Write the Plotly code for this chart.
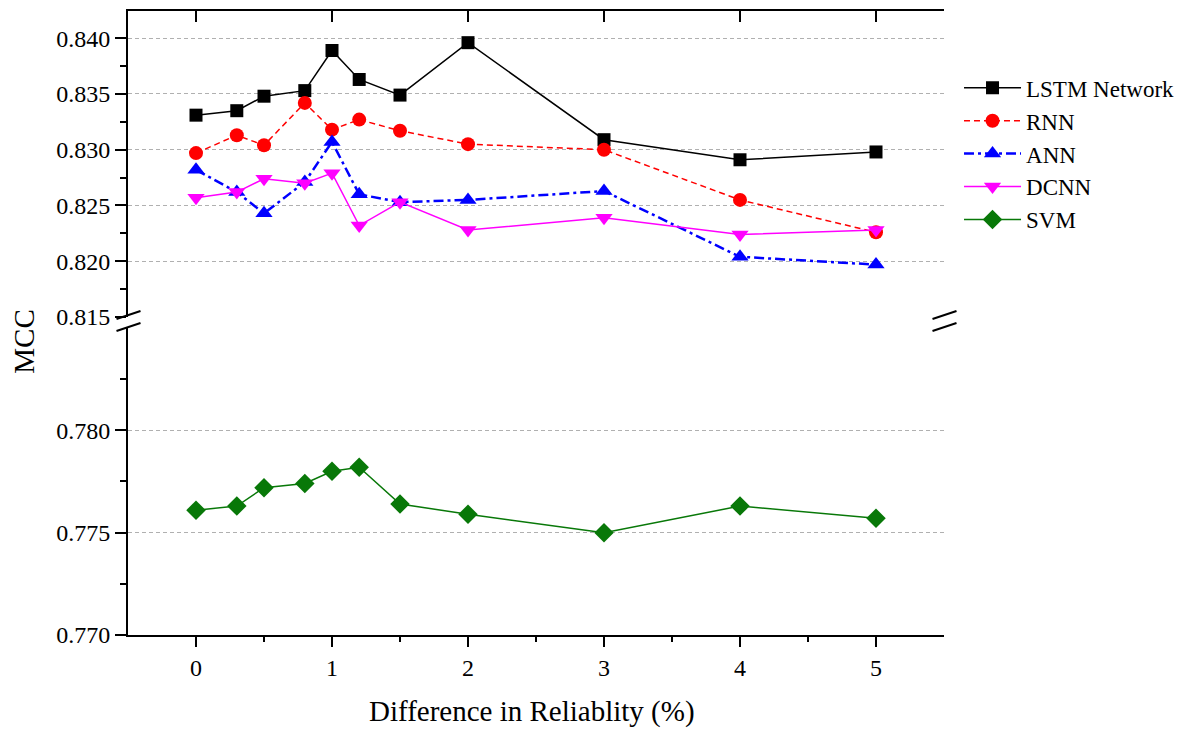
import plotly.graph_objects as go

# ---- data ----
x_vals = [0, 0.3, 0.5, 0.8, 1, 1.2, 1.5, 2, 3, 4, 5]
lstm = [0.8331, 0.8335, 0.8348, 0.8353, 0.8389, 0.8363, 0.8349, 0.8396, 0.8309, 0.8291, 0.8298]
rnn = [0.8297, 0.8313, 0.8304, 0.8342, 0.8318, 0.8327, 0.8317, 0.8305, 0.8300, 0.8255, 0.8226]
ann = [0.8282, 0.8262, 0.8243, 0.8271, 0.8307, 0.8260, 0.8253, 0.8255, 0.8263, 0.8204, 0.8197]
dcnn = [0.8257, 0.8262, 0.8274, 0.8270, 0.8279, 0.8232, 0.8253, 0.8228, 0.8239, 0.8224, 0.8228]
svm = [0.7761, 0.7763, 0.7772, 0.7774, 0.7780, 0.7782, 0.7764, 0.7759, 0.7750, 0.7763, 0.7757]

x_ticks = [0, 1, 2, 3, 4, 5]
x_minor = [0.5, 1.5, 2.5, 3.5, 4.5]
top_ticks = [0.815, 0.820, 0.825, 0.830, 0.835, 0.840]
top_minor = [0.8175, 0.8225, 0.8275, 0.8325, 0.8375]
bot_ticks = [0.770, 0.775, 0.780]
bot_minor = [0.7725, 0.7775, 0.7825]

FONT = "Liberation Serif"

fig = go.Figure()

fig.add_trace(go.Scatter(x=x_vals, y=lstm, name="LSTM Network", xaxis="x2", yaxis="y2",
                         mode="lines+markers",
                         line=dict(color="black", width=1.5),
                         marker=dict(symbol="square", size=13, color="black")))
fig.add_trace(go.Scatter(x=x_vals, y=rnn, name="RNN", xaxis="x2", yaxis="y2",
                         mode="lines+markers",
                         line=dict(color="#ff0000", width=1.5, dash="6px,4px"),
                         marker=dict(symbol="circle", size=14, color="#ff0000")))
fig.add_trace(go.Scatter(x=x_vals, y=ann, name="ANN", xaxis="x2", yaxis="y2",
                         mode="lines+markers",
                         line=dict(color="#0000ff", width=2.5, dash="10px,4px,3px,4px"),
                         marker=dict(symbol="triangle-up", size=15, color="#0000ff")))
fig.add_trace(go.Scatter(x=x_vals, y=dcnn, name="DCNN", xaxis="x2", yaxis="y2",
                         mode="lines+markers",
                         line=dict(color="#ff00ff", width=1.5),
                         marker=dict(symbol="triangle-down", size=15, color="#ff00ff")))
fig.add_trace(go.Scatter(x=x_vals, y=svm, name="SVM", xaxis="x", yaxis="y",
                         mode="lines+markers",
                         line=dict(color="#087808", width=1.5),
                         marker=dict(symbol="diamond", size=15, color="#087808")))

tickfont = dict(family=FONT, size=24, color="black")
grid = dict(showgrid=True, gridcolor="#b0b0b0", gridwidth=1, griddash="4px,3px")

TOP_DOMAIN = [0.5096, 1.0]
BOT_DOMAIN = [0.0, 0.492]

fig.update_layout(
    width=1190, height=729,
    margin=dict(l=128, r=246, t=11, b=94, autoexpand=False),
    paper_bgcolor="white", plot_bgcolor="white",
    font=dict(family=FONT, size=24, color="black"),
    xaxis=dict(domain=[0, 1], anchor="y", range=[-0.5, 5.5],
               tickvals=x_ticks, ticktext=[str(v) for v in x_ticks],
               ticks="outside", ticklen=10, tickwidth=2, tickcolor="black",
               tickfont=tickfont, showgrid=False, zeroline=False,
               showline=True, linecolor="black", linewidth=2,
               minor=dict(tickvals=x_minor, ticks="outside", ticklen=5,
                          tickwidth=2, tickcolor="black", showgrid=False)),
    xaxis2=dict(domain=[0, 1], anchor="y2", side="top", range=[-0.5, 5.5],
                matches="x", tickvals=x_ticks, showticklabels=False,
                ticks="inside", ticklen=11, tickwidth=2, tickcolor="black",
                showgrid=False, zeroline=False,
                showline=True, linecolor="black", linewidth=2),
    yaxis=dict(domain=BOT_DOMAIN, anchor="x", range=[0.770, 0.785],
               tickvals=bot_ticks, ticktext=["%.3f" % v for v in bot_ticks],
               ticks="outside", ticklen=11, tickwidth=2, tickcolor="black",
               tickfont=tickfont, zeroline=False,
               showline=True, linecolor="black", linewidth=2,
               minor=dict(tickvals=bot_minor, ticks="outside", ticklen=6,
                          tickwidth=2, tickcolor="black", showgrid=False),
               **grid),
    yaxis2=dict(domain=TOP_DOMAIN, anchor="x2", range=[0.815, 0.84244],
                tickvals=top_ticks, ticktext=["%.3f" % v for v in top_ticks],
                ticks="outside", ticklen=11, tickwidth=2, tickcolor="black",
                tickfont=tickfont, zeroline=False,
                showline=True, linecolor="black", linewidth=2,
                minor=dict(tickvals=top_minor, ticks="outside", ticklen=6,
                           tickwidth=2, tickcolor="black", showgrid=False),
                **grid),
    yaxis3=dict(overlaying="y", anchor="x", side="right", range=[0.770, 0.785],
                tickvals=bot_ticks, showticklabels=False,
                ticks="inside", ticklen=11, tickwidth=2, tickcolor="black",
                showgrid=False, zeroline=False,
                showline=True, linecolor="black", linewidth=2),
    yaxis4=dict(overlaying="y2", anchor="x2", side="right", range=[0.815, 0.84244],
                tickvals=top_ticks, showticklabels=False,
                ticks="inside", ticklen=11, tickwidth=2, tickcolor="black",
                showgrid=False, zeroline=False,
                showline=True, linecolor="black", linewidth=2),
    legend=dict(xref="container", yref="container", x=0.8059, y=0.909,
                xanchor="left", yanchor="top",
                font=dict(family=FONT, size=23, color="black"),
                bgcolor="rgba(0,0,0,0)", itemwidth=57, tracegroupgap=0),
    showlegend=True,
    annotations=[
        dict(text="Difference in Reliablity (%)", xref="paper", yref="paper",
             x=0.495, y=-0.122, xanchor="center", yanchor="middle",
             showarrow=False, font=dict(family=FONT, size=29, color="black")),
        dict(text="MCC", xref="paper", yref="paper", textangle=-90,
             x=-0.1275, y=0.47, xanchor="center", yanchor="middle",
             showarrow=False, font=dict(family=FONT, size=29, color="black")),
    ],
)

# axis-break marks (decorations on the broken y axis)
brk = []
for xc in (0.0, 1.0):
    for (ya, yb) in ((319, 311), (331, 323)):
        brk.append(dict(type="line", xref="paper", yref="paper",
                        x0=xc - 11.5 / 816, x1=xc + 12.5 / 816,
                        y0=(635 - ya) / 624, y1=(635 - yb) / 624,
                        line=dict(color="black", width=2)))
fig.update_layout(shapes=brk)

fig.write_html("out.html", config={"displayModeBar": False},
               post_script="document.body.style.margin='0';")
